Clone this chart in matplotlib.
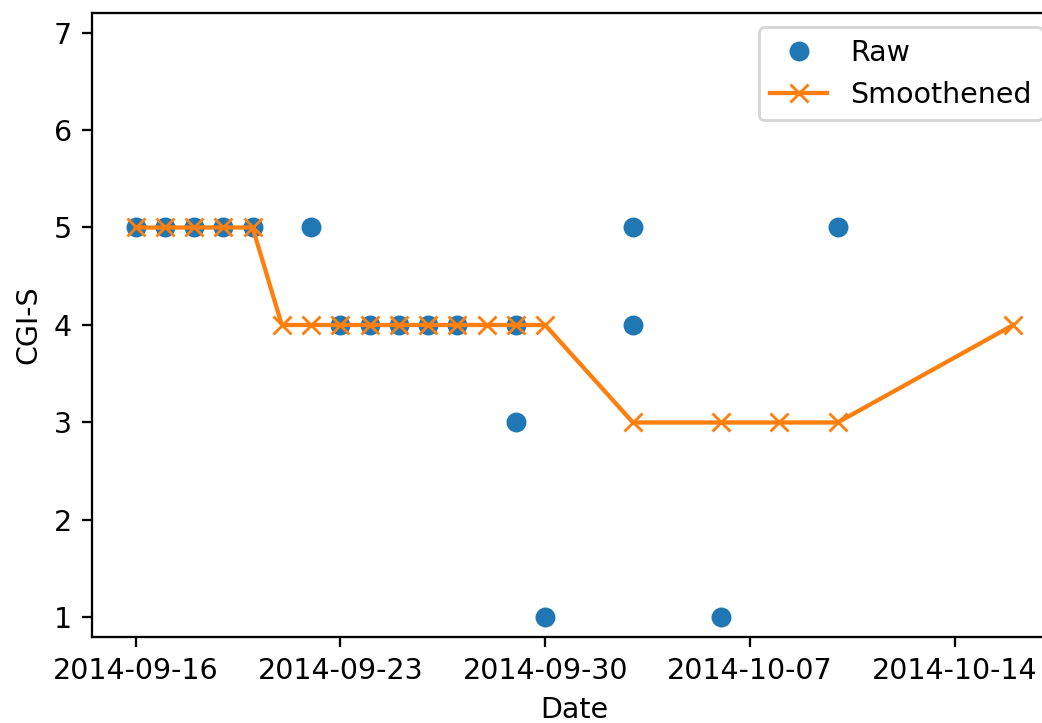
import pandas as pd
import matplotlib
matplotlib.use("Agg")
import matplotlib.pyplot as plt
import matplotlib.dates as mdates

# raw ratings
raw_dates = ["2014-09-16", "2014-09-17", "2014-09-18", "2014-09-19", "2014-09-20",
             "2014-09-22", "2014-09-23", "2014-09-24", "2014-09-25", "2014-09-26",
             "2014-09-27", "2014-09-29", "2014-09-29", "2014-09-30", "2014-10-03",
             "2014-10-03", "2014-10-06", "2014-10-10"]
raw_vals = [5, 5, 5, 5, 5, 5, 4, 4, 4, 4, 4, 4, 3, 1, 5, 4, 1, 5]

# smoothed series
smooth_dates = ["2014-09-16", "2014-09-17", "2014-09-18", "2014-09-19", "2014-09-20",
                "2014-09-21", "2014-09-22", "2014-09-23", "2014-09-24", "2014-09-25",
                "2014-09-26", "2014-09-27", "2014-09-28", "2014-09-29", "2014-09-30",
                "2014-10-03", "2014-10-06", "2014-10-08", "2014-10-10", "2014-10-16"]
smooth_vals = [5, 5, 5, 5, 5, 4, 4, 4, 4, 4, 4, 4, 4, 4, 4, 3, 3, 3, 3, 4]

tick_dates = ["2014-09-16", "2014-09-23", "2014-09-30", "2014-10-07", "2014-10-14"]

raw_x = pd.to_datetime(raw_dates)
smooth_x = pd.to_datetime(smooth_dates)

dpi = 205
fig, ax = plt.subplots(figsize=(1042 / dpi, 723 / dpi), dpi=dpi)
# the original picture is cut off on the right, so the axes run past the edge
fig.subplots_adjust(left=0.088, right=1.0145, top=0.982, bottom=0.119)

ax.plot(raw_x, raw_vals, "o", color="#1f77b4", label="Raw")
ax.plot(smooth_x, smooth_vals, "-x", color="#ff7f0e", label="Smoothened")

ax.set_ylim(0.8, 7.2)
ax.set_yticks([1, 2, 3, 4, 5, 6, 7])
ax.set_xticks(pd.to_datetime(tick_dates))
ax.xaxis.set_major_formatter(mdates.DateFormatter("%Y-%m-%d"))
ax.set_xlabel("Date")
ax.set_ylabel("CGI-S")
ax.legend(loc="upper right")

fig.savefig("out.png", dpi=dpi)
